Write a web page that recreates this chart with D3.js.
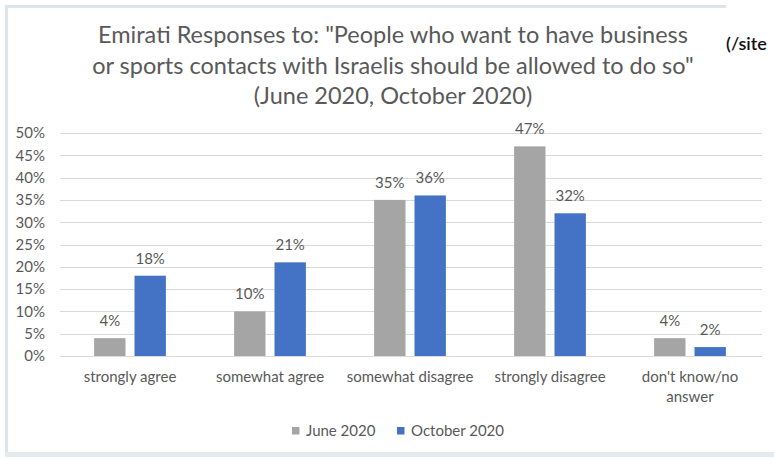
<!DOCTYPE html>
<html>
<head>
<meta charset="utf-8">
<script src="https://cdn.jsdelivr.net/npm/d3@7"></script>
<style>
  html, body { margin: 0; padding: 0; background: #ffffff; }
  svg { display: block; }
  text { font-family: Lato, "Open Sans", sans-serif; }
</style>
</head>
<body>
<svg id="chart" width="774" height="459"></svg>
<script>
// Survey answers (share of respondents)
const categories = ["strongly agree", "somewhat agree", "somewhat disagree", "strongly disagree", "don't know/no answer"];
const seriesNames = ["June 2020", "October 2020"];
const june2020 = [4, 10, 35, 47, 4];
const october2020 = [18, 21, 36, 32, 2];
const yTicks = [0, 5, 10, 15, 20, 25, 30, 35, 40, 45, 50];
const titleLines = [
  "Emirati Responses to: \"People who want to have business",
  "or sports contacts with Israelis should be allowed to do so\"",
  "(June 2020, October 2020)"
];

const colors = { "June 2020": "#a5a5a5", "October 2020": "#4472c4" };
const textColor = "#595959";

const svg = d3.select("#chart");

// Outer frame (light blue-grey edges)
const frame = "#dce5eb";
svg.append("rect").attr("x", 5).attr("y", 5).attr("width", 721).attr("height", 3).attr("fill", frame);
svg.append("rect").attr("x", 5).attr("y", 5).attr("width", 3).attr("height", 450).attr("fill", frame);
svg.append("rect").attr("x", 5).attr("y", 452).attr("width", 769).attr("height", 5).attr("fill", "#e4ebef");

// Stray link fragment at top right
svg.append("text")
  .attr("x", 726).attr("y", 50)
  .attr("font-family", "'Open Sans', sans-serif")
  .attr("font-size", 18).attr("font-weight", 600)
  .attr("fill", "#111")
  .text("(/site");

// Title
const titleY = [43, 74, 104];
titleLines.forEach((t, i) => {
  svg.append("text")
    .attr("x", 393).attr("y", titleY[i])
    .attr("text-anchor", "middle")
    .attr("font-size", 23.5)
    .attr("fill", textColor)
    .text(t);
});

// Scales
const x = d3.scaleBand().domain(categories).range([60, 760]).paddingInner(0).paddingOuter(0);
const xSeries = d3.scaleBand().domain(seriesNames).range([0, x.bandwidth()]).paddingInner(0.223).paddingOuter(0.845);
const y = d3.scaleLinear().domain([0, 50]).range([356, 133]);

// Gridlines
svg.append("g")
  .selectAll("line")
  .data(yTicks)
  .join("line")
  .attr("x1", 60).attr("x2", 762)
  .attr("y1", d => Math.round(y(d)) + 0.5).attr("y2", d => Math.round(y(d)) + 0.5)
  .attr("stroke", "#d9d9d9").attr("stroke-width", 1);

// Y axis labels
const yAxis = d3.axisLeft(y).tickValues(yTicks).tickFormat(d => d + "%").tickSize(0).tickPadding(0);
const yg = svg.append("g").attr("transform", "translate(45,0)").call(yAxis);
yg.select(".domain").remove();
yg.selectAll("text")
  .attr("font-family", "Lato, 'Open Sans', sans-serif")
  .attr("font-size", 15).attr("fill", textColor);

// Bars
const rows = categories.map((c, i) => ({ cat: c, values: [
  { s: "June 2020", v: june2020[i] },
  { s: "October 2020", v: october2020[i] }
]}));

const groups = svg.append("g").selectAll("g")
  .data(rows).join("g")
  .attr("transform", d => `translate(${x(d.cat)},0)`);

groups.selectAll("rect")
  .data(d => d.values).join("rect")
  .attr("x", d => xSeries(d.s))
  .attr("width", xSeries.bandwidth())
  .attr("y", d => y(d.v))
  .attr("height", d => y(0) - y(d.v))
  .attr("fill", d => colors[d.s]);

groups.selectAll("text.val")
  .data(d => d.values).join("text")
  .attr("class", "val")
  .attr("x", d => xSeries(d.s) + xSeries.bandwidth() / 2)
  .attr("y", d => y(d.v) - 12)
  .attr("text-anchor", "middle")
  .attr("font-size", 15)
  .attr("fill", textColor)
  .text(d => d.v + "%");

// X axis category labels (wrapped where needed)
const xLabelLines = {
  "don't know/no answer": ["don't know/no", "answer"]
};
const xg = svg.append("g");
categories.forEach(c => {
  const lines = xLabelLines[c] || [c];
  const t = xg.append("text")
    .attr("x", x(c) + x.bandwidth() / 2)
    .attr("y", 382)
    .attr("text-anchor", "middle")
    .attr("font-size", 15)
    .attr("fill", textColor);
  lines.forEach((l, i) => {
    t.append("tspan").attr("x", x(c) + x.bandwidth() / 2).attr("dy", i === 0 ? 0 : 20).text(l);
  });
});

// Legend
const legendItems = [
  { name: "June 2020", x: 292 },
  { name: "October 2020", x: 397 }
];
const lg = svg.append("g");
legendItems.forEach(it => {
  lg.append("rect").attr("x", it.x).attr("y", 427).attr("width", 7.5).attr("height", 7.5).attr("fill", colors[it.name]);
  lg.append("text").attr("x", it.x + 14).attr("y", 436)
    .attr("font-size", 15).attr("fill", textColor).text(it.name);
});
</script>
</body>
</html>
